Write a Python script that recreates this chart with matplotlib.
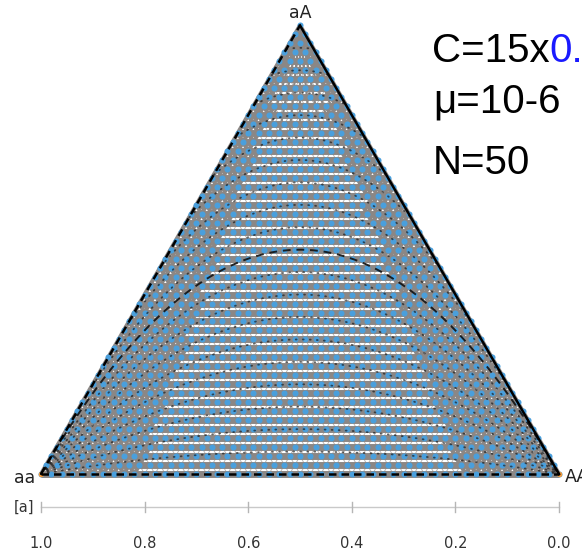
import numpy as np
import matplotlib
matplotlib.use("Agg")
import matplotlib.pyplot as plt
from matplotlib.collections import LineCollection

# ---- model / display values ----
N = 50                                   # population size
vertex_labels = ["aa", "AA", "aA"]       # left, right, top corners
allele_ticks = [1.0, 0.8, 0.6, 0.4, 0.2, 0.0]
axis_label = "[a]"
inbreeding_F = [-0.9, -0.8, -0.7, -0.6, -0.5, -0.4, -0.3, -0.2, -0.1,
                0.1, 0.2, 0.3, 0.4, 0.5, 0.6, 0.7, 0.8, 0.9]
hardy_weinberg_F = 0.0
cost_prefix, cost_suffix = "C=15x", "0."
param_lines = ["μ=10-6", "N=50"]

H = np.sqrt(3) / 2
GRAY = "#8b8785"
BLUE = "#4a9fdc"

fig = plt.figure(figsize=(5.82, 5.55), dpi=100)
ax = fig.add_axes([0, 0, 1, 1])
S = 518.0
ax.set_xlim(-41 / S, 541 / S)
ax.set_ylim(-81 / S, 474 / S)
ax.axis("off")


def simplex_xy(n_aa, n_het, n_AA):
    tot = n_aa + n_het + n_AA
    return (n_AA + 0.5 * n_het) / tot, n_het / tot * H


# ---- state lattice (counts of aa, aA, AA summing to N) ----
pts = {}
for k in range(N + 1):
    for j in range(N - k + 1):
        pts[(j, k)] = simplex_xy(N - k - j, k, j)

# horizontal transitions along each heterozygote row
rows = []
for k in range(N):
    rows.append([pts[(0, k)], pts[(N - k, k)]])
ax.add_collection(LineCollection(rows, colors=GRAY, linewidths=5.0,
                                 capstyle="butt", zorder=1))

# transitions between rows: heavy towards the homozygote sides,
# faint in the middle
diag_side, diag_mid = [], []
for k in range(N):
    L = N - k + 1
    thr = max(2.0, 0.19 * L)
    for j in range(N - k + 1):
        i = N - k - j
        target = diag_side if min(i, j) < thr else diag_mid
        if (j, k + 1) in pts:
            target.append([pts[(j, k)], pts[(j, k + 1)]])
        if (j - 1, k + 1) in pts:
            target.append([pts[(j, k)], pts[(j - 1, k + 1)]])
ax.add_collection(LineCollection(diag_side, colors=GRAY, linewidths=3.0, zorder=1))
ax.add_collection(LineCollection(diag_mid, colors=GRAY, linewidths=0.7,
                                 alpha=0.6, zorder=1))

# transitions fanning out of the all-heterozygote corner
apex = pts[(0, N)]
k0 = N - 12
fan = [[apex, pts[(j, k0)]] for j in range(N - k0 + 1)]
ax.add_collection(LineCollection(fan, colors=GRAY, linewidths=1.6, zorder=1))

# states
xs = np.array([p[0] for p in pts.values()])
ys = np.array([p[1] for p in pts.values()])
ax.scatter(xs, ys, s=19, color=BLUE, linewidths=0, zorder=3)
ax.scatter([0, 1], [0, 0], s=16, color="#f39a3c", linewidths=0, zorder=4)

# constant-inbreeding curves: het = 2p(1-p)(1-F)
p = np.linspace(0, 1, 801)
for F in inbreeding_F:
    het = 2 * p * (1 - p) * (1 - F)
    y = het * H
    y = np.where(het <= 2 * np.minimum(p, 1 - p) + 1e-9, y, np.nan)
    ax.plot(p, y, color="#151515", lw=1.3, ls=(0, (0.5, 3.4)),
            dash_capstyle="round", alpha=0.65, zorder=4)
het = 2 * p * (1 - p) * (1 - hardy_weinberg_F)
ax.plot(p, het * H, color="#111111", lw=1.4, ls=(0, (4, 3)), alpha=0.9, zorder=4)

# simplex boundary
ax.plot([0, 0.5], [0, H], color="black", lw=1.8, ls=(0, (3, 2)), zorder=5)
ax.plot([0.5, 1], [H, 0], color="black", lw=1.8, zorder=5)
ax.plot([0, 1], [0, 0], color="black", lw=1.8, ls=(0, (3, 2)), zorder=5)

# corner labels
lab_kw = dict(fontsize=12.5, color="#222222", family="DejaVu Sans")
ax.text(-6 / S, -4 / S, vertex_labels[0], ha="right", va="center", **lab_kw)
ax.text(1 + 6 / S, -3 / S, vertex_labels[1], ha="left", va="center", **lab_kw)
ax.text(0.5, H + 12 / S, vertex_labels[2], ha="center", va="center", **lab_kw)

# allele-frequency axis underneath
ax_y = -33 / S
ax.plot([0, 1], [ax_y, ax_y], color="#c9c9c9", lw=1.0)
for t in allele_ticks:
    x = 1 - t
    ax.plot([x, x], [ax_y - 5 / S, ax_y + 5 / S], color="#b5b5b5", lw=1.0)
    ax.text(x, ax_y - 36 / S, f"{t:.1f}", ha="center", va="center",
            fontsize=10.5, color="#333333", family="DejaVu Sans")
ax.text(-7 / S, ax_y, axis_label, ha="right", va="center",
        fontsize=10.5, color="#333333", family="DejaVu Sans")

# parameter annotations
txt_kw = dict(fontsize=29, family="Liberation Sans", va="baseline", ha="left")
t0 = ax.text(391 / S, (474 - 62) / S, cost_prefix, color="black", **txt_kw)
ax.annotate(cost_suffix, xy=(1, 0), xycoords=t0, va="bottom", ha="left",
            fontsize=29, family="Liberation Sans", color="#1a1aff")
ax.text(392 / S, (474 - 113) / S, param_lines[0], color="black", **txt_kw)
ax.text(392 / S, (474 - 174) / S, param_lines[1], color="black", **txt_kw)

fig.savefig("out.png", dpi=100)
